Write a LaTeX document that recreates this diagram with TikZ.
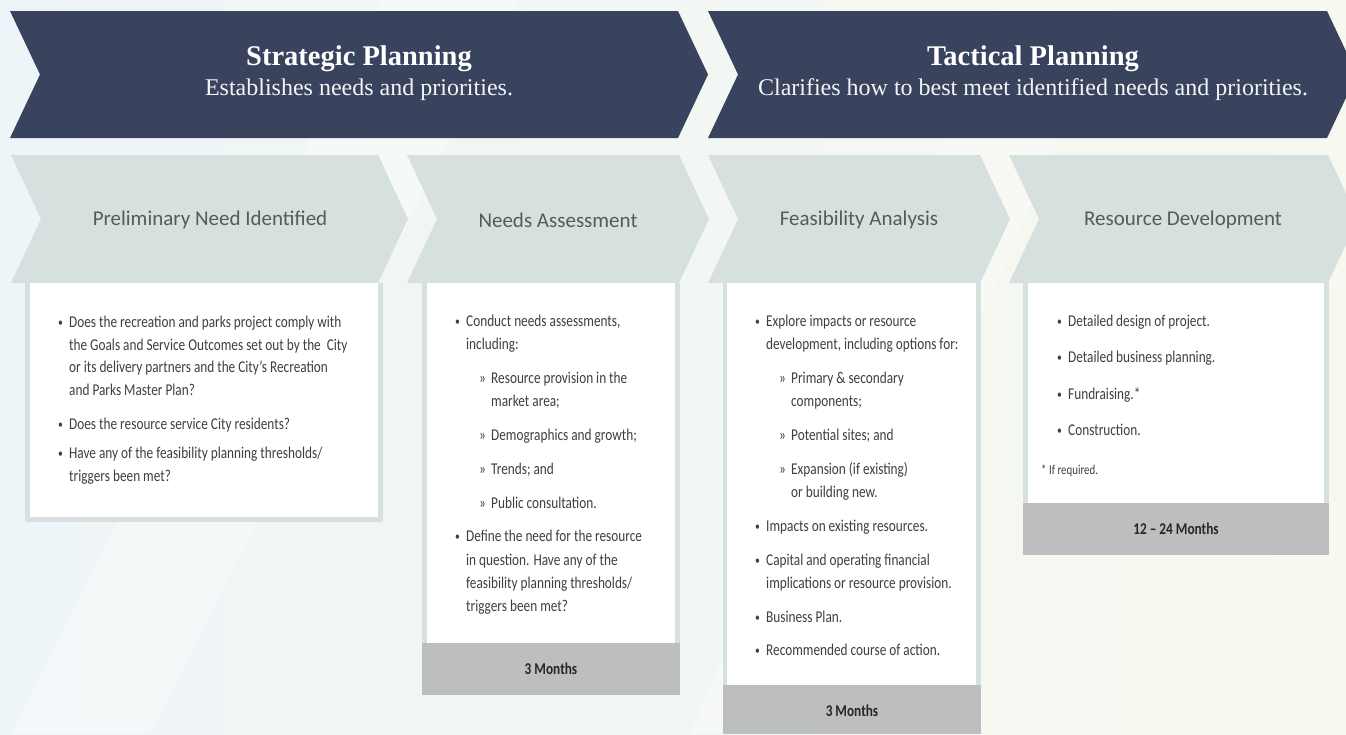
\documentclass[tikz,border=0pt]{standalone}
\usepackage{fontspec}
\setmainfont{Liberation Serif}
\newfontfamily\labfont{Carlito}
\newfontfamily\bodyfont[FakeStretch=0.805,Ligatures=TeX]{Carlito}
\definecolor{bgL}{HTML}{EEF5F8}
\definecolor{bgR}{HTML}{F7F8EF}
\definecolor{navy}{HTML}{39435E}
\definecolor{pale}{HTML}{D6E0DF}
\definecolor{foot}{HTML}{BDBEC0}
\definecolor{labtxt}{HTML}{58595B}
\definecolor{bodytxt}{HTML}{3F3E40}
\newcommand\chevron[6]{%
  \fill[#1] (#2,#4) -- (#3,#4) -- ({#3+#6},{(#4+#5)/2}) -- (#3,#5) -- (#2,#5) -- ({#2+#6},{(#4+#5)/2}) -- cycle;}
\newcommand\bodyline[4]{\node[btxt] (#1) at (#2,#3) {#4};}
\newcommand\bulletmark[3]{\node[btxt, font=\bodyfont\fontsize{12}{14}\selectfont] (#1) at (#2,{#3-1}) {•};}
\tikzset{
  btxt/.style={anchor=base west, inner sep=0pt, text=bodytxt, font=\bodyfont\fontsize{16.5}{19}\selectfont},
  ttl/.style={anchor=base, inner sep=0pt, text=white, font=\fontsize{28.5}{32}\selectfont\bfseries},
  sub/.style={anchor=base, inner sep=0pt, text=white!94!navy, font=\fontsize{24}{28}\selectfont},
  lab/.style={anchor=center, inner sep=0pt, text=labtxt, font=\labfont\fontsize{21}{24}\selectfont},
  ftxt/.style={anchor=center, inner sep=0pt, text=black!85, font=\bodyfont\bfseries\fontsize{16.5}{19}\selectfont},
}
\begin{document}
\begin{tikzpicture}[x=1pt,y=-1pt]
\useasboundingbox (0,0) rectangle (1346,734);
\clip (0,0) rectangle (1346,734);
\shade[left color=bgL, right color=bgR] (0,0) rectangle (1346,734);
% faint diagonal streaks
\fill[white, opacity=0.35] (380,0) -- (520,0) -- (150,734) -- (10,734) -- cycle;
\fill[white, opacity=0.3] (1000,0) -- (1120,0) -- (800,734) -- (690,734) -- cycle;
% dark chevrons
\chevron{navy}{10}{678}{11}{138}{30}
\chevron{navy}{708}{1327}{11}{138}{30}
% light chevrons
\chevron{pale}{11}{378}{155}{283}{30}
\chevron{pale}{407}{679}{155}{283}{30}
\chevron{pale}{708}{980}{155}{283}{30}
\chevron{pale}{1009}{1328}{155}{283}{30}
% boxes
\fill[pale] (25,283) rectangle (383,522);
\fill[white] (30,283) rectangle (378,517);
\fill[pale] (422,283) rectangle (680,643);
\fill[white] (427,283) rectangle (675,643);
\fill[foot] (422,643) rectangle (680,695);
\fill[pale] (723,283) rectangle (981,685);
\fill[white] (727,283) rectangle (976,685);
\fill[foot] (723,685) rectangle (981,734);
\fill[pale] (1023,283) rectangle (1329,503);
\fill[white] (1028,283) rectangle (1324,503);
\fill[foot] (1023,503) rectangle (1329,555);
% titles
\node[ttl] (t1) at (359,65) {Strategic Planning};
\node[sub] (s1) at (359,95) {Establishes needs and priorities.};
\node[ttl] (t2) at (1033,65) {Tactical Planning};
\node[sub] (s2) at (1033,95) {Clarifies how to best meet identified needs and priorities.};
% stage labels
\node[lab] (l1) at (210,220) {Preliminary Need Identified};
\node[lab] (l2) at (558,220) {Needs Assessment};
\node[lab] (l3) at (859,220) {Feasibility Analysis};
\node[lab] (l4) at (1183,220) {Resource Development};
% box 1
\bulletmark{a1}{58}{327.5}
\bodyline{a1a}{69}{327.5}{Does the recreation and parks project comply with}
\bodyline{a1b}{69}{350}{the Goals and Service Outcomes set out by the\ \ City}
\bodyline{a1c}{69}{372.5}{or its delivery partners and the City’s Recreation}
\bodyline{a1d}{69}{395}{and Parks Master Plan?}
\bulletmark{a2}{58}{429.5}
\bodyline{a2a}{69}{429.5}{Does the resource service City residents?}
\bulletmark{a3}{58}{458.5}
\bodyline{a3a}{69}{458.5}{Have any of the feasibility planning thresholds/}
\bodyline{a3b}{69}{481.5}{triggers been met?}
% box 2
\bulletmark{b1}{455}{326.5}
\bodyline{b1a}{466}{326.5}{Conduct needs assessments,}
\bodyline{b1b}{466}{349.5}{including:}
\bodyline{b2}{479}{383.5}{»}
\bodyline{b2a}{491}{383.5}{Resource provision in the}
\bodyline{b2b}{491}{406.5}{market area;}
\bodyline{b3}{479}{440.5}{»}
\bodyline{b3a}{491}{440.5}{Demographics and growth;}
\bodyline{b4}{479}{474.5}{»}
\bodyline{b4a}{491}{474.5}{Trends; and}
\bodyline{b5}{479}{508.5}{»}
\bodyline{b5a}{491}{508.5}{Public consultation.}
\bulletmark{b6}{455}{541.5}
\bodyline{b6a}{466}{541.5}{Define the need for the resource}
\bodyline{b6b}{466}{565}{in question. Have any of the}
\bodyline{b6c}{466}{588}{feasibility planning thresholds/}
\bodyline{b6d}{466}{611}{triggers been met?}
\node[ftxt] (bf) at (551,669) {3 Months};
% box 3
\bulletmark{c1}{755}{326.5}
\bodyline{c1a}{766}{326.5}{Explore impacts or resource}
\bodyline{c1b}{766}{349.5}{development, including options for:}
\bodyline{c2}{779}{383.5}{»}
\bodyline{c2a}{791}{383.5}{Primary \& secondary}
\bodyline{c2b}{791}{406.5}{components;}
\bodyline{c3}{779}{440.5}{»}
\bodyline{c3a}{791}{440.5}{Potential sites; and}
\bodyline{c4}{779}{474.5}{»}
\bodyline{c4a}{791}{474.5}{Expansion (if existing)}
\bodyline{c4b}{791}{497.5}{or building new.}
\bulletmark{c5}{755}{531.5}
\bodyline{c5a}{766}{531.5}{Impacts on existing resources.}
\bulletmark{c6}{755}{565.5}
\bodyline{c6a}{766}{565.5}{Capital and operating financial}
\bodyline{c6b}{766}{588.5}{implications or resource provision.}
\bulletmark{c7}{755}{622.5}
\bodyline{c7a}{766}{622.5}{Business Plan.}
\bulletmark{c8}{755}{655.5}
\bodyline{c8a}{766}{655.5}{Recommended course of action.}
\node[ftxt] (cf) at (852,711) {3 Months};
% box 4
\bulletmark{d1}{1057}{326.5}
\bodyline{d1a}{1068}{326.5}{Detailed design of project.}
\bulletmark{d2}{1057}{362.5}
\bodyline{d2a}{1068}{362.5}{Detailed business planning.}
\bulletmark{d3}{1057}{399.5}
\bodyline{d3a}{1068}{399.5}{Fundraising.*}
\bulletmark{d4}{1057}{435.5}
\bodyline{d4a}{1068}{435.5}{Construction.}
\node[btxt, font=\bodyfont\fontsize{13.5}{16}\selectfont] (d5) at (1041,474) {* If required.};
\node[ftxt] (df) at (1176,529) {12 – 24 Months};
\end{tikzpicture}
\end{document}
